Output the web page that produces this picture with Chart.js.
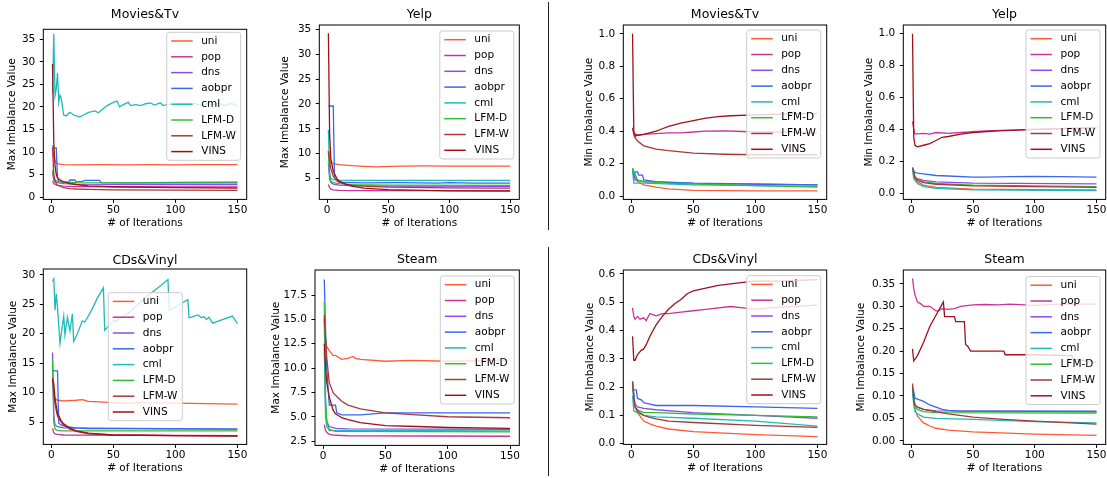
<!DOCTYPE html>
<html>
<head>
<meta charset="utf-8">
<script src="https://cdn.jsdelivr.net/npm/chart.js@4.4.1/dist/chart.umd.min.js"></script>
<style>
  html, body { margin: 0; padding: 0; background: #fff; overflow: hidden; width: 1107px; height: 478px; }
  canvas { position: absolute; }
  .sep { position: absolute; left: 548px; width: 1px; background: #222; }
</style>
</head>
<body>
<div class="sep" style="top:2px;height:228px"></div>
<div class="sep" style="top:247px;height:229px"></div>
<script>
const methods = ["uni", "pop", "dns", "aobpr", "cml", "LFM-D", "LFM-W", "VINS"];
const xTicks = [0, 50, 100, 150];

// [iteration, value] pairs
const moviesTvMax = {
  uni: [[1,11],[2,8.8],[3,8],[4,7.6],[5,7.4],[7,7.3],[10,7.2],[20,7.15],[40,7.2],[60,7.15],[80,7.2],[100,7.15],[120,7.2],[150,7.2]],
  pop: [[1,3.6],[2,3.0],[3,2.8],[5,2.6],[10,2.45],[20,2.35],[50,2.3],[100,2.25],[150,2.25]],
  dns: [[1,5.5],[2,3.8],[3,3.4],[5,3.2],[10,3.0],[20,2.9],[50,2.85],[100,2.8],[150,2.8]],
  aobpr: [[1,11.5],[2,10.9],[4,10.9],[5,4.2],[6,3.6],[8,3.4],[10,3.3],[14,3.4],[15,3.8],[19,3.8],[20,3.4],[25,3.5],[27,3.7],[39,3.7],[40,3.2],[60,3.15],[100,3.25],[150,3.3]],
  cml: [[1,23],[2,36.2],[3,22.5],[4,24],[5,27.5],[6,21],[7,22.6],[8,22],[9,20],[10,18.2],[12,18],[13,18.3],[15,18.8],[18,18.2],[20,18],[23,17.8],[26,18.2],[30,18.8],[35,19.1],[38,18.7],[41,19.4],[45,20.3],[50,21],[53,21.3],[55,20],[58,20.5],[62,21],[64,20.3],[68,20.5],[72,20.3],[76,20.7],[80,20.9],[83,20.4],[88,20.9],[90,20.3],[95,20.6],[100,20.5],[105,20.8],[110,20.6],[115,20.8],[120,20.4],[125,20.7],[130,20.5],[135,20.8],[140,20.3],[145,20.8],[150,20.2]],
  "LFM-D": [[1,6],[2,4.5],[3,3.8],[5,3.5],[10,3.3],[20,3.2],[150,3.15]],
  "LFM-W": [[1,11],[2,5],[3,3.5],[4,3],[5,2.7],[8,2.3],[10,2.1],[15,1.9],[20,1.8],[30,1.7],[50,1.6],[100,1.55],[150,1.5]],
  VINS: [[1,29.5],[2,12],[3,7],[4,5],[5,4.3],[6,4.0],[8,3.7],[10,3.4],[15,3.0],[20,2.8],[30,2.5],[50,2.3],[100,2.1],[150,2.0]]
};
const yelpMax = {
  uni: [[1,10.5],[2,9],[3,8.3],[5,8.0],[10,7.8],[20,7.6],[30,7.45],[40,7.35],[60,7.5],[80,7.55],[100,7.5],[120,7.5],[150,7.5]],
  pop: [[1,3.8],[2,3.2],[3,2.9],[5,2.75],[10,2.65],[20,2.6],[150,2.6]],
  dns: [[1,8],[2,5],[3,4.2],[5,3.9],[10,3.7],[20,3.6],[50,3.5],[150,3.45]],
  aobpr: [[1,19.6],[5,19.6],[6,5.2],[8,4.6],[10,4.3],[20,4.2],[30,4.15],[60,4.2],[90,4.1],[100,4.2],[120,4.1],[150,4.1]],
  cml: [[1,14.8],[2,6],[3,5],[5,4.8],[10,4.7],[20,4.65],[150,4.65]],
  "LFM-D": [[1,10.5],[2,6],[3,4.5],[5,4.2],[10,4.0],[20,3.8],[50,3.7],[150,3.65]],
  "LFM-W": [[1,10.5],[2,8.5],[3,7],[5,5.5],[8,4.6],[10,4.3],[15,3.9],[20,3.7],[30,3.5],[50,3.3],[100,3.15],[150,3.1]],
  VINS: [[1,34.2],[2,14],[3,9],[5,6.5],[8,5],[10,4.5],[15,3.9],[20,3.5],[30,3.1],[50,2.8],[100,2.55],[150,2.5]]
};
const moviesTvMin = {
  uni: [[1,0.17],[3,0.12],[5,0.09],[10,0.07],[20,0.055],[30,0.045],[50,0.035],[100,0.033],[150,0.033]],
  pop: [[1,0.42],[2,0.39],[5,0.375],[10,0.38],[20,0.385],[30,0.39],[40,0.39],[50,0.395],[60,0.4],[75,0.402],[90,0.398],[100,0.395],[120,0.395],[150,0.39]],
  dns: [[1,0.17],[3,0.1],[10,0.09],[50,0.078],[150,0.07]],
  aobpr: [[1,0.16],[2,0.12],[3,0.15],[5,0.15],[6,0.13],[9,0.13],[10,0.1],[20,0.09],[50,0.08],[150,0.07]],
  cml: [[1,0.16],[2,0.08],[10,0.08],[50,0.07],[150,0.06]],
  "LFM-D": [[1,0.17],[5,0.1],[10,0.09],[30,0.08],[100,0.065],[150,0.055]],
  "LFM-W": [[1,0.42],[2,0.38],[3,0.36],[5,0.34],[10,0.31],[20,0.29],[30,0.28],[50,0.265],[75,0.258],[100,0.255],[150,0.255]],
  VINS: [[1,1.0],[2,0.4],[3,0.37],[5,0.375],[10,0.38],[20,0.4],[25,0.415],[30,0.43],[40,0.45],[50,0.465],[60,0.48],[70,0.49],[80,0.495],[100,0.5],[120,0.505],[150,0.51]]
};
const yelpMin = {
  uni: [[1,0.15],[3,0.09],[5,0.07],[10,0.05],[20,0.035],[50,0.025],[100,0.021],[150,0.02]],
  pop: [[1,0.45],[2,0.4],[3,0.37],[10,0.375],[15,0.37],[20,0.38],[30,0.375],[40,0.38],[60,0.39],[80,0.395],[100,0.4],[120,0.405],[150,0.41]],
  dns: [[1,0.16],[3,0.1],[5,0.09],[10,0.08],[20,0.07],[50,0.062],[150,0.058]],
  aobpr: [[1,0.15],[2,0.14],[3,0.13],[5,0.125],[10,0.12],[20,0.11],[30,0.107],[50,0.1],[60,0.1],[80,0.103],[100,0.105],[120,0.103],[150,0.1]],
  cml: [[1,0.15],[2,0.09],[5,0.06],[10,0.04],[20,0.03],[50,0.02],[150,0.015]],
  "LFM-D": [[1,0.16],[3,0.1],[5,0.085],[10,0.07],[20,0.06],[50,0.05],[150,0.04]],
  "LFM-W": [[1,0.16],[3,0.1],[5,0.08],[10,0.065],[20,0.055],[50,0.045],[150,0.035]],
  VINS: [[1,1.0],[2,0.35],[3,0.3],[5,0.29],[10,0.3],[15,0.31],[20,0.33],[25,0.35],[30,0.355],[40,0.37],[50,0.38],[70,0.39],[100,0.4],[150,0.41]]
};
const cdsMax = {
  uni: [[1,12.5],[2,9.5],[3,9],[5,8.7],[10,8.6],[20,8.7],[25,8.8],[30,8.5],[50,8.3],[100,8.2],[150,8.05]],
  pop: [[1,3.9],[2,3.2],[3,3.0],[5,2.9],[10,2.8],[150,2.7]],
  dns: [[1,16.8],[2,6],[3,4.5],[5,4.2],[10,4.0],[150,3.8]],
  aobpr: [[1,13.7],[5,13.7],[6,4.8],[8,4.5],[12,4.2],[20,4.0],[30,3.9],[150,3.8]],
  cml: [[1,28.9],[2,29.3],[3,24],[4,26.8],[5,24.5],[7,18.4],[9,21.5],[10,23],[11,19.8],[13,22.8],[15,20.5],[17,23.4],[18,18.7],[21,20],[25,22.2],[27,22],[32,23.8],[37,26],[42,27.8],[43,20.6],[47,21.5],[50,22.3],[52,22.1],[55,22.6],[62,23.5],[70,25],[78,26.5],[87,28],[94,29.2],[95,24],[102,24.8],[110,25.8],[111,22.7],[118,23.2],[121,22.7],[123,22.9],[125,22.4],[127,22.8],[130,21.8],[135,22.2],[146,23],[150,21.7]],
  "LFM-D": [[1,15.5],[2,5],[3,3.8],[5,3.6],[10,3.5],[150,3.5]],
  "LFM-W": [[1,12.5],[2,10],[3,8],[5,6],[8,5],[10,4.5],[15,3.8],[20,3.4],[30,3.0],[50,2.8],[100,2.7],[150,2.6]],
  VINS: [[1,12.3],[2,11.5],[3,9],[5,6.5],[8,5.2],[10,4.7],[15,4.0],[20,3.5],[30,3.1],[50,2.8],[100,2.7],[150,2.65]]
};
const steamMax = {
  uni: [[1,15],[2,13],[3,12.2],[5,11.8],[8,11.3],[10,11.3],[15,10.9],[20,11.0],[24,11.2],[26,11.0],[30,10.9],[50,10.7],[70,10.8],[100,10.7],[150,10.85]],
  pop: [[1,4.2],[2,3.6],[3,3.4],[5,3.2],[10,3.1],[20,3.05],[150,3.0]],
  dns: [[1,15],[2,6],[3,4.5],[5,4.0],[10,3.8],[20,3.75],[150,3.7]],
  aobpr: [[1,19.1],[2,14],[3,10],[5,6.2],[10,6.2],[11,5.4],[15,5.2],[30,5.2],[40,5.3],[50,5.4],[150,5.4]],
  cml: [[1,12],[2,5],[3,4],[5,3.6],[150,3.55]],
  "LFM-D": [[1,16.8],[2,7],[3,4.5],[5,3.7],[10,3.5],[150,3.45]],
  "LFM-W": [[1,15.4],[2,13],[3,11],[5,8.5],[8,7.5],[10,7.2],[15,6.6],[20,6.2],[30,5.8],[50,5.4],[75,5.2],[100,5.0],[150,4.9]],
  VINS: [[1,12.5],[2,10],[3,8.5],[5,7],[8,5.7],[10,5.3],[15,4.9],[20,4.7],[30,4.4],[50,4.1],[75,4.0],[100,3.9],[150,3.8]]
};
const cdsMin = {
  uni: [[1,0.22],[3,0.13],[5,0.11],[10,0.08],[15,0.07],[20,0.062],[30,0.052],[50,0.043],[75,0.037],[100,0.032],[150,0.025]],
  pop: [[1,0.48],[2,0.45],[3,0.44],[5,0.45],[7,0.44],[10,0.445],[12,0.435],[15,0.46],[20,0.452],[25,0.46],[30,0.46],[40,0.465],[50,0.47],[60,0.475],[80,0.485],[90,0.48],[100,0.475],[110,0.48],[130,0.485],[150,0.49]],
  dns: [[1,0.21],[3,0.14],[5,0.13],[10,0.125],[20,0.12],[50,0.11],[100,0.1],[150,0.09]],
  aobpr: [[1,0.19],[4,0.19],[5,0.16],[8,0.155],[10,0.145],[15,0.14],[20,0.135],[50,0.135],[100,0.13],[150,0.125]],
  cml: [[1,0.17],[2,0.115],[5,0.11],[10,0.1],[20,0.095],[50,0.09],[100,0.08],[150,0.062]],
  "LFM-D": [[1,0.22],[2,0.15],[3,0.13],[5,0.12],[10,0.11],[20,0.11],[50,0.105],[100,0.1],[150,0.095]],
  "LFM-W": [[1,0.22],[2,0.16],[3,0.13],[5,0.115],[10,0.1],[15,0.093],[20,0.088],[30,0.08],[50,0.075],[100,0.065],[150,0.058]],
  VINS: [[1,0.38],[2,0.295],[3,0.295],[5,0.315],[8,0.33],[10,0.335],[12,0.35],[15,0.38],[20,0.42],[25,0.45],[30,0.475],[35,0.495],[40,0.51],[45,0.53],[50,0.54],[60,0.55],[70,0.56],[80,0.565],[90,0.57],[100,0.575],[120,0.575],[150,0.58]]
};
const steamMin = {
  uni: [[1,0.115],[3,0.07],[5,0.055],[10,0.04],[15,0.033],[20,0.028],[30,0.024],[50,0.02],[100,0.015],[150,0.012]],
  pop: [[1,0.362],[2,0.34],[3,0.325],[5,0.31],[8,0.305],[10,0.3],[15,0.3],[20,0.29],[22,0.29],[25,0.295],[30,0.293],[35,0.295],[40,0.3],[50,0.303],[60,0.304],[70,0.303],[80,0.305],[100,0.302],[120,0.305],[150,0.305]],
  dns: [[1,0.115],[3,0.08],[5,0.075],[10,0.07],[20,0.067],[150,0.065]],
  aobpr: [[1,0.12],[2,0.11],[3,0.095],[5,0.093],[10,0.088],[15,0.08],[20,0.075],[25,0.07],[30,0.068],[40,0.066],[150,0.066]],
  cml: [[1,0.11],[2,0.08],[3,0.065],[5,0.06],[10,0.053],[20,0.05],[50,0.048],[100,0.043],[150,0.04]],
  "LFM-D": [[1,0.12],[3,0.075],[5,0.07],[10,0.065],[20,0.063],[150,0.062]],
  "LFM-W": [[1,0.128],[2,0.09],[3,0.08],[5,0.075],[10,0.07],[20,0.065],[30,0.06],[50,0.053],[75,0.048],[100,0.044],[150,0.037]],
  VINS: [[1,0.205],[2,0.178],[5,0.19],[10,0.22],[15,0.255],[20,0.28],[25,0.305],[26,0.31],[27,0.277],[35,0.277],[36,0.266],[43,0.266],[44,0.215],[46,0.21],[48,0.2],[75,0.2],[76,0.192],[100,0.192],[130,0.19],[131,0.183],[150,0.175]]
};

const ticksMoviesMax = [0, 5, 10, 15, 20, 25, 30, 35];
const ticksYelpMax = [5, 10, 15, 20, 25, 30, 35];
const ticksUnit = [0, 0.2, 0.4, 0.6, 0.8, 1.0];
const ticksCdsMax = [5, 10, 15, 20, 25, 30];
const ticksSteamMax = [2.5, 5, 7.5, 10, 12.5, 15, 17.5];
const ticksCdsMin = [0, 0.1, 0.2, 0.3, 0.4, 0.5, 0.6];
const ticksSteamMin = [0, 0.05, 0.1, 0.15, 0.2, 0.25, 0.3, 0.35];

const colors = ["#ff5a36", "#cc3399", "#8a4cf0", "#3a66f0", "#1fbaba", "#2fbf2f", "#a63a3a", "#a0101a"];
const FONT = '"DejaVu Sans", sans-serif';

// plot boxes in page pixels: [left, top, right, bottom]
const panels = [
  { data: moviesTvMax, title: "Movies&Tv", yLabel: "Max Imbalance Value", yMin: -0.5, yMax: 37.2, yTicks: ticksMoviesMax, dec: 0,
    box: [43.3, 29.3, 246.7, 199], titleY: 15, gap: 30.6, legend: { right: 6, top: 3 } },
  { data: yelpMax, title: "Yelp", yLabel: "Max Imbalance Value", yMin: 0.83, yMax: 35.87, yTicks: ticksYelpMax, dec: 0,
    box: [319.3, 25, 519.3, 199], titleY: 15, gap: 34.3, legend: { right: 5.5, top: 6 } },
  { data: moviesTvMin, title: "Movies&Tv", yLabel: "Min Imbalance Value", yMin: -0.02, yMax: 1.054, yTicks: ticksUnit, dec: 1,
    box: [623.3, 25, 826.7, 199], titleY: 15, gap: 34, legend: { right: 6, top: 5 } },
  { data: yelpMin, title: "Yelp", yLabel: "Min Imbalance Value", yMin: -0.04, yMax: 1.055, yTicks: ticksUnit, dec: 1,
    box: [903.3, 25, 1105.7, 199], titleY: 15, gap: 34, legend: { right: 5.7, top: 5 } },
  { data: cdsMax, title: "CDs&Vinyl", yLabel: "Max Imbalance Value", yMin: 1.2, yMax: 31.0, yTicks: ticksCdsMax, dec: 0,
    box: [43.3, 269, 246.7, 444], titleY: 260.7, gap: 30, legend: { left: 65, top: 23.7 } },
  { data: steamMax, title: "Steam", yLabel: "Max Imbalance Value", yMin: 2.06, yMax: 20.07, yTicks: ticksSteamMax, dec: 1,
    box: [315, 270, 519.3, 445], titleY: 260, gap: 38.3, legend: { right: 5, top: 6 } },
  { data: cdsMin, title: "CDs&Vinyl", yLabel: "Min Imbalance Value", yMin: -0.0025, yMax: 0.614, yTicks: ticksCdsMin, dec: 1,
    box: [623.3, 270, 826.7, 444], titleY: 260, gap: 33.3, legend: { right: 6, top: 5.7 } },
  { data: steamMin, title: "Steam", yLabel: "Min Imbalance Value", yMin: -0.008, yMax: 0.381, yTicks: ticksSteamMin, dec: 2,
    box: [903.3, 270, 1105.7, 444.3], titleY: 260, gap: 41.6, legend: { right: 5.7, top: 6.5 } }
];

const LEG_W = 74, LEG_H = 128;

const decor = {
  id: "decor",
  afterDatasetsDraw(chart, args, opts) {
    const { ctx, chartArea: a } = chart;
    ctx.save();
    ctx.strokeStyle = "#000";
    ctx.lineWidth = 1;
    ctx.strokeRect(a.left, a.top, a.right - a.left, a.bottom - a.top);

    const lg = opts.legend;
    const lx = lg.left != null ? a.left + lg.left : a.right - lg.right - LEG_W;
    const ly = a.top + lg.top;
    ctx.fillStyle = "rgba(255,255,255,0.8)";
    ctx.strokeStyle = "#cccccc";
    ctx.beginPath();
    ctx.roundRect(lx, ly, LEG_W, LEG_H, 2.5);
    ctx.fill();
    ctx.stroke();
    ctx.font = "10.5px " + FONT;
    ctx.textBaseline = "middle";
    chart.data.datasets.forEach((d, i) => {
      const y = ly + 8.7 + i * 15.8;
      ctx.strokeStyle = d.borderColor;
      ctx.lineWidth = 1.5;
      ctx.beginPath();
      ctx.moveTo(lx + 4.5, y);
      ctx.lineTo(lx + 26, y);
      ctx.stroke();
      ctx.fillStyle = "#000";
      ctx.fillText(d.label, lx + 34.5, y);
    });

    ctx.font = "12.5px " + FONT;
    ctx.textAlign = "center";
    ctx.fillStyle = "#000";
    ctx.fillText(opts.title, (a.left + a.right) / 2, opts.titleY);
    ctx.restore();
  }
};

panels.forEach((p) => {
  const [L, T, R, B] = p.box;
  const cl = Math.round(L - (p.gap + 8.3));
  const ct = Math.round(T - 24);
  const yw = L - cl;
  const th = T - ct;
  const xh = 32.6;
  const w = Math.ceil(R + 14 - cl);
  const h = Math.ceil(B + xh - ct);

  const cv = document.createElement("canvas");
  cv.width = w;
  cv.height = h;
  cv.style.left = cl + "px";
  cv.style.top = ct + "px";
  cv.style.width = w + "px";
  cv.style.height = h + "px";
  document.body.appendChild(cv);

  const tickFont = { family: FONT, size: 10.5 };

  new Chart(cv, {
    type: "line",
    data: {
      datasets: methods.map((m, i) => ({
        label: m,
        data: p.data[m],
        borderColor: colors[i],
        borderWidth: 1.3,
        pointRadius: 0,
        tension: 0,
        fill: false,
        order: methods.length - i
      }))
    },
    options: {
      responsive: false,
      animation: false,
      events: [],
      layout: { padding: { top: th, right: w - (R - cl), bottom: 0, left: 0 } },
      plugins: {
        legend: { display: false },
        title: { display: false },
        tooltip: { enabled: false },
        decor: { legend: p.legend, title: p.title, titleY: p.titleY - ct }
      },
      scales: {
        x: {
          type: "linear",
          min: -6.45,
          max: 157.45,
          afterBuildTicks: (s) => { s.ticks = xTicks.map((v) => ({ value: v })); },
          afterFit: (s) => { s.height = xh; },
          ticks: { color: "#000", font: tickFont, padding: 1.2, maxRotation: 0, callback: (v) => String(v) },
          grid: { drawOnChartArea: false, drawTicks: true, tickLength: 3.5, tickColor: "#000", tickWidth: 1 },
          border: { display: false },
          title: { display: true, text: "# of Iterations", color: "#000", font: tickFont, padding: { top: 0, bottom: 2 } }
        },
        y: {
          type: "linear",
          min: p.yMin,
          max: p.yMax,
          afterBuildTicks: (s) => { s.ticks = p.yTicks.map((v) => ({ value: v })); },
          afterFit: (s) => { s.width = yw; },
          ticks: { color: "#000", font: tickFont, padding: 4.5, callback: (v) => Number(v).toFixed(p.dec) },
          grid: { drawOnChartArea: false, drawTicks: true, tickLength: 3.5, tickColor: "#000", tickWidth: 1 },
          border: { display: false },
          title: { display: true, text: p.yLabel, color: "#000", font: tickFont, padding: { top: 2, bottom: 0 } }
        }
      }
    },
    plugins: [decor]
  });
});
</script>
</body>
</html>
